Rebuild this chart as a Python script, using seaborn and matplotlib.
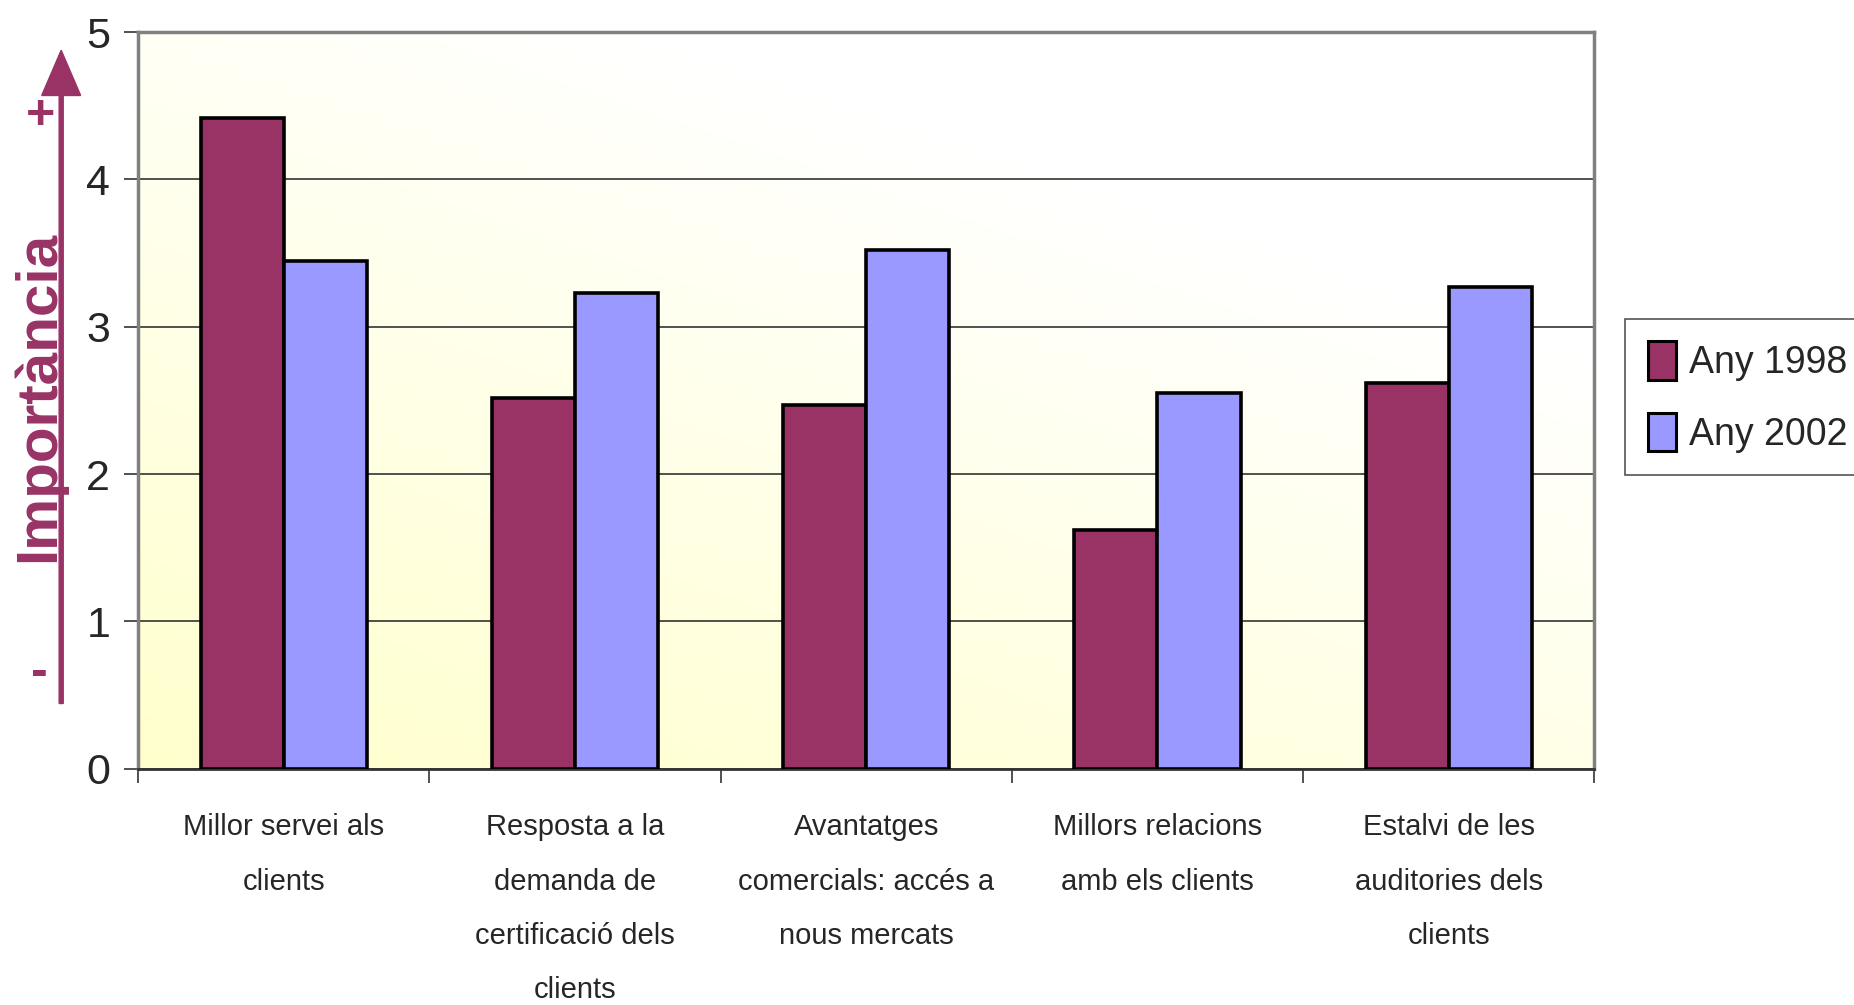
import numpy as np
import pandas as pd
import matplotlib
matplotlib.use("Agg")
import matplotlib.pyplot as plt
import seaborn as sns

# --- Data ---
categories = [
    "Millor servei als\nclients",
    "Resposta a la\ndemanda de\ncertificació dels\nclients",
    "Avantatges\ncomercials: accés a\nnous mercats",
    "Millors relacions\namb els clients",
    "Estalvi de les\nauditories dels\nclients",
]
any_1998 = [4.42, 2.52, 2.47, 1.62, 2.62]
any_2002 = [3.45, 3.23, 3.52, 2.55, 3.27]
series_names = ["Any 1998", "Any 2002"]
colors = ["#993366", "#9999FF"]

df = pd.DataFrame({
    "categoria": categories * 2,
    "any": [series_names[0]] * 5 + [series_names[1]] * 5,
    "valor": any_1998 + any_2002,
})

sns.set_style("white")
narrow = ["Liberation Sans Narrow", "Liberation Sans", "DejaVu Sans"]
plt.rcParams["font.family"] = narrow

fig = plt.figure(figsize=(18.54, 10.05), dpi=100)
ax = fig.add_axes([0.0744, 0.235, 0.7856, 0.733])

# background gradient: light yellow bottom-left to white top-right
gx, gy = np.meshgrid(np.linspace(0, 1, 200), np.linspace(0, 1, 200))
t = np.clip((gx * 0.6 + gy * 0.9) / 1.1, 0, 1)
bg = np.ones((200, 200, 3))
bg[..., 2] = (204 + 51 * t) / 255
ax.imshow(bg, extent=(-0.5, 4.5, 0, 5), origin="lower", aspect="auto", zorder=0)

sns.barplot(
    data=df, x="categoria", y="valor", hue="any",
    palette=colors, width=0.57, edgecolor="black", linewidth=2.6,
    saturation=1, ax=ax, zorder=3,
)

ax.set_xlim(-0.5, 4.5)
ax.set_ylim(0, 5)
ax.set_yticks([0, 1, 2, 3, 4, 5])
ax.yaxis.grid(True, color="#333333", linewidth=1.2, zorder=1)
ax.set_axisbelow(True)
ax.set_xlabel("")
ax.set_ylabel("")

ax.tick_params(axis="y", labelsize=31, length=10, width=1.2, color="#333333", pad=10, left=True)
ax.tick_params(axis="x", which="major", labelsize=21, length=0, pad=32)
ax.set_xticks(np.arange(-0.5, 5, 1), minor=True)
ax.tick_params(axis="x", which="minor", length=10, width=1.2, color="#333333", bottom=True)
for lab in ax.get_xticklabels():
    lab.set_linespacing(2.2)

for side in ["top", "right", "left"]:
    ax.spines[side].set_color("#808080")
    ax.spines[side].set_linewidth(2.5)
ax.spines["bottom"].set_color("#333333")
ax.spines["bottom"].set_linewidth(2)

leg = ax.legend(
    loc="center left", bbox_to_anchor=(0.8765, 0.605), bbox_transform=fig.transFigure,
    fontsize=27, frameon=True, fancybox=False, edgecolor="#555555",
    handlelength=0.75, handleheight=1.2, handletextpad=0.35, labelspacing=0.85,
    borderpad=0.6, borderaxespad=0, framealpha=1,
)
leg.get_frame().set_linewidth(1.2)
for h in leg.legend_handles:
    h.set_edgecolor("black")
    h.set_linewidth(2.2)

# y axis label with arrow
purple = "#993366"
fig.patches.append(matplotlib.patches.FancyArrow(
    0.033, 0.30, 0, 0.605, width=0.0022, head_width=0.021, head_length=0.045,
    length_includes_head=False, color=purple, transform=fig.transFigure, figure=fig,
))
fig.text(0.021, 0.606, "Importància", rotation=90, ha="center", va="center",
         fontsize=42, fontweight="bold", color=purple, family=narrow)
fig.text(0.022, 0.885, "+", ha="center", va="center", fontsize=36,
         fontweight="bold", color=purple, family=narrow)
fig.text(0.021, 0.33, "-", ha="center", va="center", fontsize=36,
         fontweight="bold", color=purple, family=narrow)

fig.savefig("out.png", dpi=100)
